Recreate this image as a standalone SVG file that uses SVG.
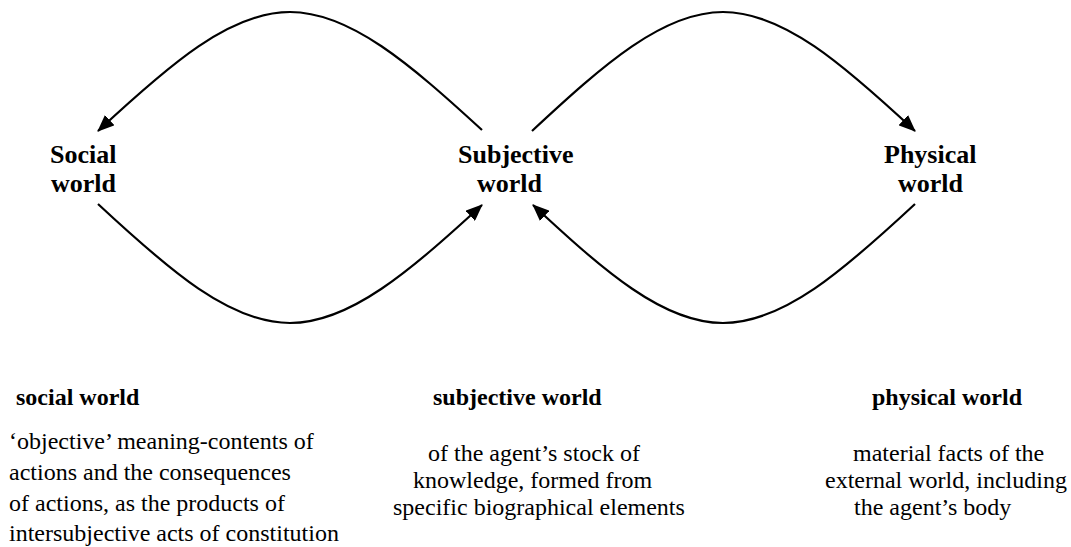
<svg xmlns="http://www.w3.org/2000/svg" width="1071" height="547" viewBox="0 0 1071 547">
  <style>
    .node { font-family: "Liberation Serif", "Times New Roman", serif; font-weight: bold; font-size: 26px; fill: #000; }
    .head { font-family: "Liberation Serif", "Times New Roman", serif; font-weight: bold; font-size: 24px; fill: #000; }
    .desc { font-family: "Liberation Serif", "Times New Roman", serif; font-size: 24px; fill: #000; }
    .arc { fill: none; stroke: #000; stroke-width: 2.2; marker-end: url(#arrow); }
  </style>
  <defs>
    <marker id="arrow" markerUnits="userSpaceOnUse" markerWidth="18" markerHeight="14" refX="16" refY="7" orient="auto">
      <path d="M0,0 L17,7 L0,14 Z" fill="#000"/>
    </marker>
  </defs>

  <rect width="1071" height="547" fill="#fff"/>

  <!-- connectors: the two loops of arrows between the worlds -->
  <g id="connectors">
    <path class="arc" d="M482,130 C410,64 350,12 290,12 C230,12 170,64 98,131"/>
    <path class="arc" d="M98,204 C170,271 230,323 290,323 C350,323 410,271 482,205"/>
    <path class="arc" d="M532,131 C604,64 663,12 723,12 C783,12 843,64 915,131"/>
    <path class="arc" d="M915,204 C843,271 783,323 723,323 C663,323 604,271 533,205"/>
  </g>

  <g id="node-social">
    <text class="node" x="50" y="163">Social</text>
    <text class="node" x="51" y="192">world</text>
  </g>
  <g id="node-subjective">
    <text class="node" x="458" y="163">Subjective</text>
    <text class="node" x="477" y="192">world</text>
  </g>
  <g id="node-physical">
    <text class="node" x="884" y="163">Physical</text>
    <text class="node" x="898" y="192">world</text>
  </g>

  <!-- descriptions of each world -->
  <g id="desc-social">
    <text class="head" x="16" y="405">social world</text>
    <text class="desc" x="9" y="449">‘objective’ meaning-contents of</text>
    <text class="desc" x="9" y="480">actions and the consequences</text>
    <text class="desc" x="9" y="511">of actions, as the products of</text>
    <text class="desc" x="9" y="541">intersubjective acts of constitution</text>
  </g>
  <g id="desc-subjective">
    <text class="head" x="433" y="405">subjective world</text>
    <text class="desc" x="428" y="461">of the agent’s stock of</text>
    <text class="desc" x="413" y="488">knowledge, formed from</text>
    <text class="desc" x="393" y="515">specific biographical elements</text>
  </g>
  <g id="desc-physical">
    <text class="head" x="872" y="405">physical world</text>
    <text class="desc" x="853" y="461">material facts of the</text>
    <text class="desc" x="825" y="488">external world, including</text>
    <text class="desc" x="854" y="515">the agent’s body</text>
  </g>
</svg>
